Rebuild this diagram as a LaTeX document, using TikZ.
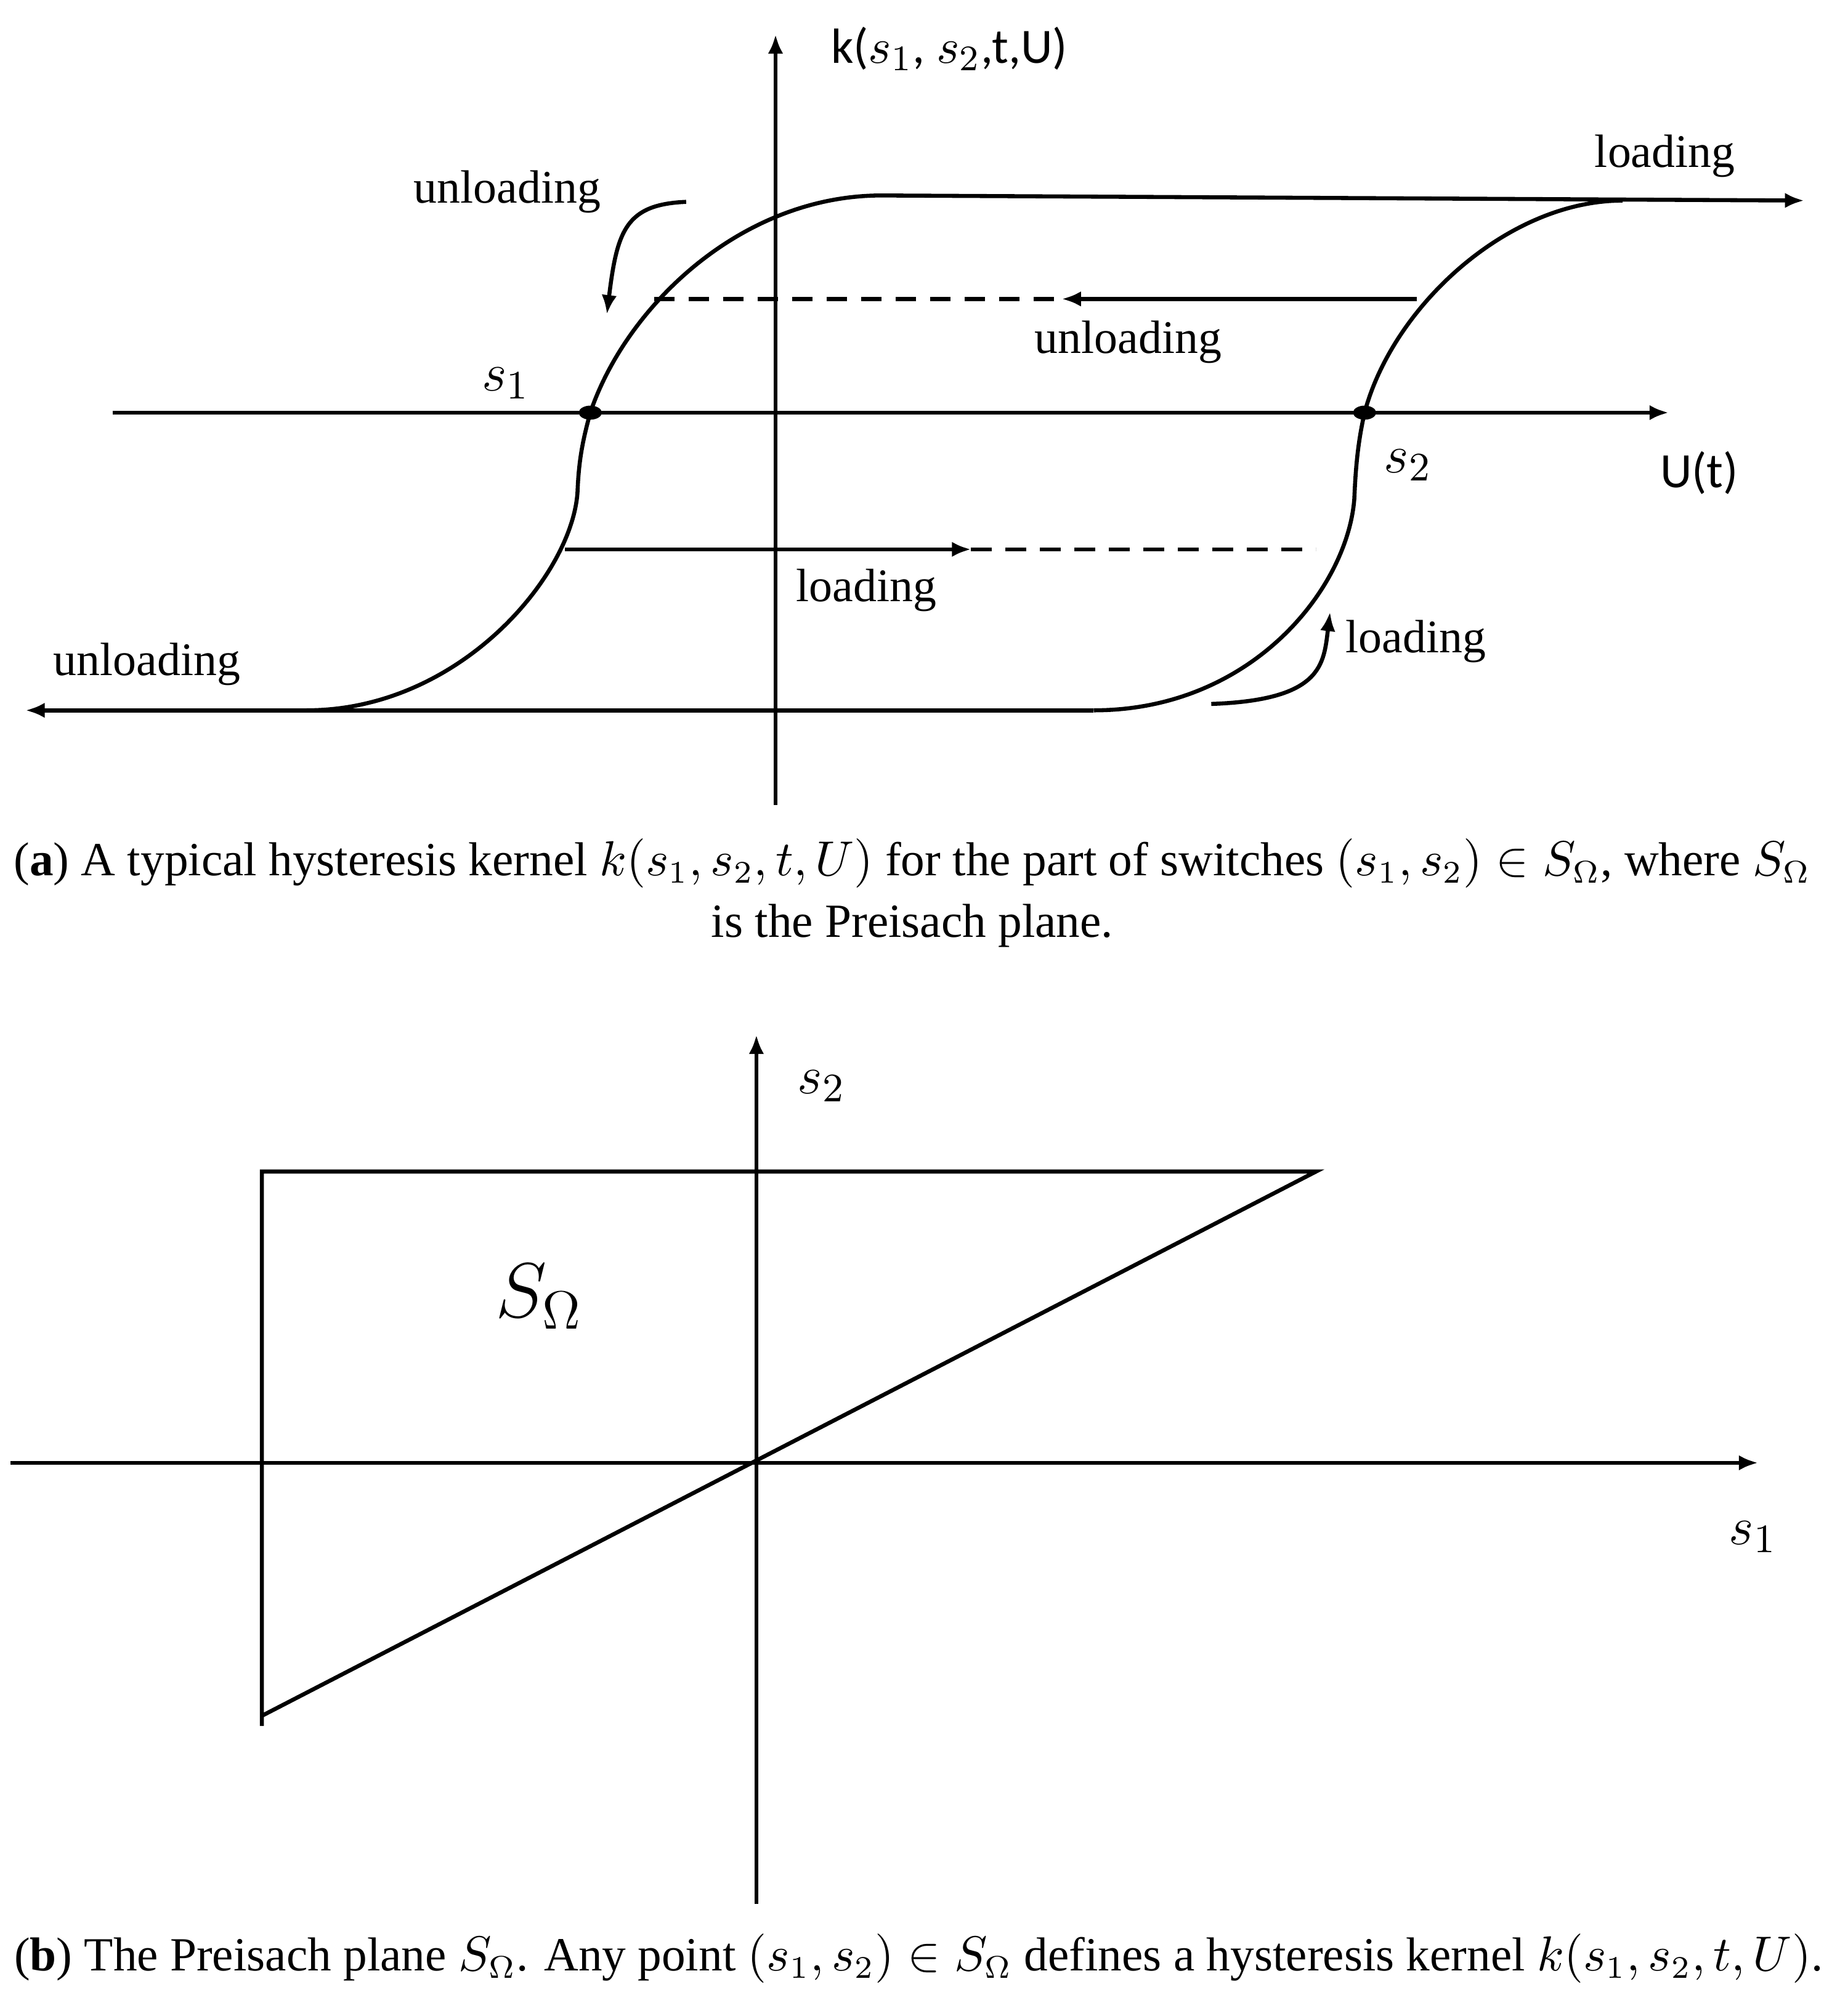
\documentclass[tikz,border=0pt]{standalone}
\usepackage{amsmath, amssymb}
\usepackage{fontspec}
\setmainfont{Liberation Serif}
\newfontfamily\calfont{Carlito}
\usepackage{tikz}
\usetikzlibrary{
	arrows.meta,shapes
}
\tikzset{
	dot/.style={fill,ellipse,inner sep=0pt,minimum width=1.8mm,minimum height=1.1mm},
	lbl/.style={font=\fontsize{10.4}{12}\selectfont},
	sans/.style={font=\calfont\fontsize{11}{13}\selectfont},
	svar/.style={font=\fontsize{12.5}{14}\selectfont},
	capt/.style={font=\fontsize{10.6}{13.6}\selectfont,align=center},
	dash line/.style={dash pattern=on 1.6mm off 1.1mm}
}
\begin{document}
\begin{tikzpicture}[x=0.1mm,y=-0.1mm,line width=0.9pt,>={Latex[length=1.5mm,width=1.2mm]}]
		\useasboundingbox (0,0) rectangle (1440,1578);
		% (a) hysteresis kernel
		\coordinate (K0) at (607,630);
		\coordinate (K1) at (607,27);
		\coordinate (U0) at (88,323);
		\coordinate (U1) at (1306,323);
		\node[dot] (s1) at (462,323) {};
		\node[dot] (s2) at (1068,323) {};
		\coordinate (P) at (690,153);
		\coordinate (P') at (1270,157);
		\coordinate (P'') at (1412,157);
		\coordinate (Q) at (240,556);
		\coordinate (Q') at (856,556);
		\coordinate (Q'') at (20,556);
		\coordinate (D) at (512,234);
		\coordinate (D') at (831,234);
		\coordinate (D'') at (1109,234);
		\coordinate (E) at (442,430);
		\coordinate (E') at (760,430);
		\coordinate (E'') at (1030,430);
		%
		\node[sans] (kl) at (743,38) {k($s_1$, $s_2$,t,U)};
		\node[sans] (ul) at (1330,370) {U(t)};
		\node[svar] (s1l) at (396,300) {$s_1$};
		\node[svar] (s2l) at (1102,364) {$s_2$};
		\node[lbl] (un1) at (397,150) {unloading};
		\node[lbl] (un2) at (883,268) {unloading};
		\node[lbl] (un3) at (115,520) {unloading};
		\node[lbl] (lo1) at (1303,122) {loading};
		\node[lbl] (lo2) at (678,462) {loading};
		\node[lbl] (lo3) at (1108,502) {loading};
		%
		\path[->]
			(K0) edge (K1)
			(U0) edge (U1)
			(P) edge (P'')
			(Q') edge (Q'')
			(D'') edge (D')
			(E) edge (E');
		\draw[dash line] (D) -- (D');
		\draw[dash line] (E') -- (E'');
		%
		\draw (s1.center) .. controls (490,240) and (580,153) .. (P);
		\draw (s1.center) .. controls (456,345) and (453,360) .. (452,385)
			.. controls (448,450) and (360,556) .. (Q);
		\draw (s2.center) .. controls (1090,240) and (1180,157) .. (P');
		\draw (s2.center) .. controls (1063,345) and (1061,365) .. (1060,390)
			.. controls (1055,460) and (980,556) .. (Q');
		\draw[->] (537,158) .. controls (490,160) and (483,180) .. (475,246);
		\draw[->] (948,551) .. controls (1035,548) and (1036,520) .. (1041,479);
		%
		\node[capt] (ca) at (714,699) {(\textbf{a}) A typical hysteresis kernel $k(s_1,s_2,t,U)$ for the part of switches $(s_1,s_2)\in S_\Omega$, where $S_\Omega$\\ is the Preisach plane.};
		% (b) Preisach plane
		\coordinate (Y0) at (592,1490);
		\coordinate (Y1) at (592,810);
		\coordinate (X0) at (8,1145);
		\coordinate (X1) at (1376,1145);
		\coordinate (A) at (205,917);
		\coordinate (B) at (1030,917);
		\coordinate (C) at (205,1343);
		\coordinate (C') at (205,1351);
		%
		\path[->]
			(Y0) edge (Y1)
			(X0) edge (X1);
		\draw (C') -- (A) -- (B) -- (C);
		%
		\node[svar] (s2b) at (643,850) {$s_2$};
		\node[svar] (s1b) at (1372,1203) {$s_1$};
		\node[font=\fontsize{17}{20}\selectfont] (SO) at (422,1015) {$S_\Omega$};
		\node[capt] (cb) at (719,1533) {(\textbf{b}) The Preisach plane $S_\Omega$. Any point $(s_1,s_2)\in S_\Omega$ defines a hysteresis kernel $k(s_1,s_2,t,U)$.};
	\end{tikzpicture}
\end{document}
